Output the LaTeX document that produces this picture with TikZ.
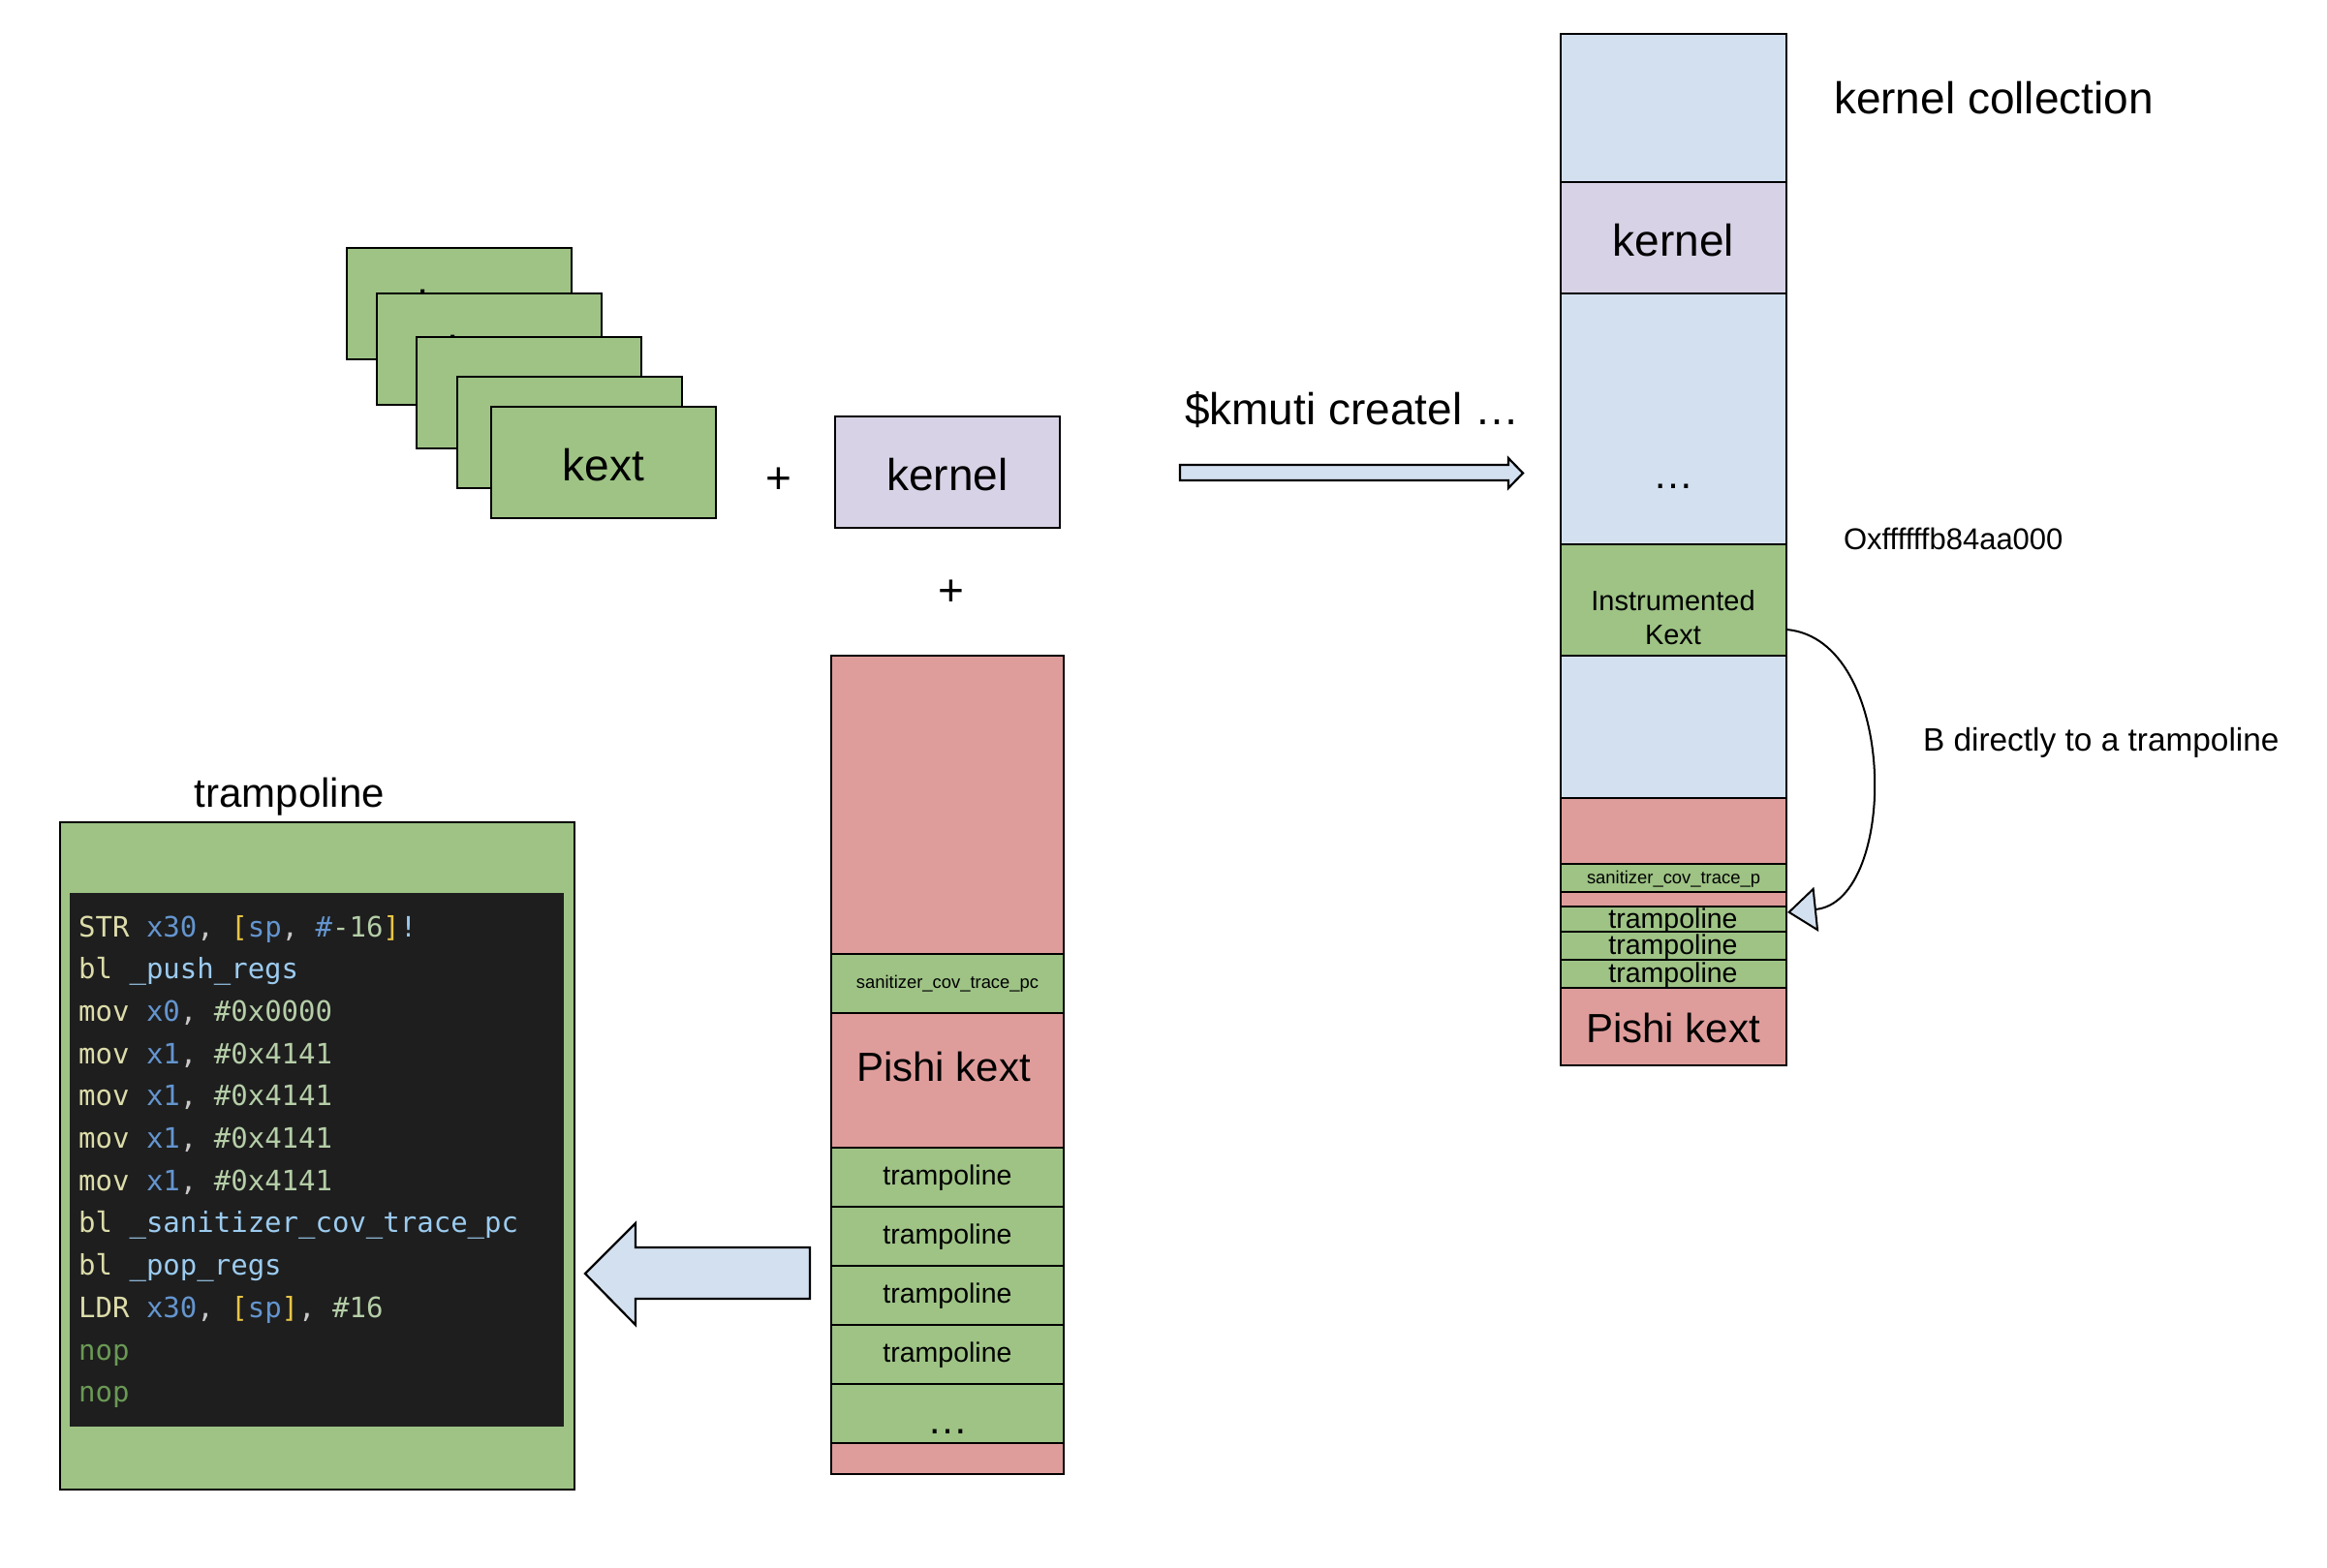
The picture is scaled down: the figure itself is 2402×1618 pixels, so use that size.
\documentclass[tikz,border=0pt]{standalone}
\usepackage{fontspec}
\setmainfont{Liberation Sans}
\newfontfamily\codefont{DejaVu Sans Mono}
\usetikzlibrary{arrows.meta}
\definecolor{cgreen}{HTML}{9EC385}
\definecolor{cred}{HTML}{DE9D9B}
\definecolor{cblue}{HTML}{D3E0F0}
\definecolor{cpurple}{HTML}{D8D2E6}
\definecolor{codebg}{HTML}{1E1E1E}
\definecolor{cop}{HTML}{DCDCAA}
\definecolor{creg}{HTML}{6495CF}
\definecolor{cbr}{HTML}{E8C547}
\definecolor{cnum}{HTML}{B5CEA8}
\definecolor{cfn}{HTML}{9CCBEF}
\definecolor{ccom}{HTML}{C8C8C8}
\definecolor{cnop}{HTML}{6A9955}
\newcommand\cOP[1]{\textcolor{cop}{#1}}
\newcommand\cRG[1]{\textcolor{creg}{#1}}
\newcommand\cBR[1]{\textcolor{cbr}{#1}}
\newcommand\cNU[1]{\textcolor{cnum}{#1}}
\newcommand\cFN[1]{\textcolor{cfn}{#1}}
\newcommand\cCM[1]{\textcolor{ccom}{#1}}
\newcommand\cNP[1]{\textcolor{cnop}{#1}}
\begin{document}
\begin{tikzpicture}[x=1pt,y=-1pt,
  cell/.style={draw=black, line width=2.6pt, rectangle, inner sep=0pt, outer sep=0pt, anchor=north west},
  txt/.style={inner sep=0pt, outer sep=0pt},
  f46/.style={font=\fontsize{46}{55}\selectfont},
  f42/.style={font=\fontsize{42}{50}\selectfont},
  f29/.style={font=\fontsize{29}{35}\selectfont},
  f28/.style={font=\fontsize{28.5}{34}\selectfont},
  f18/.style={font=\fontsize{18.4}{22}\selectfont},
  code/.style={anchor=base west, inner sep=0pt, font=\codefont\fontsize{29}{35}\selectfont},
  blockarrow/.style={draw=black, line width=2.2pt, fill=cblue, line join=miter}
]
\useasboundingbox (0,0) rectangle (2402,1618);

% ---------- stack of kexts ----------
\node[cell, fill=cgreen, minimum width=232pt, minimum height=115pt] (k1) at (358,256) {};
\node[txt, f46, yshift=-3pt] at (k1.center) {kext};
\node[cell, fill=cgreen, minimum width=232pt, minimum height=115pt] (k2) at (389,303) {};
\node[txt, f46, yshift=-3pt] at (k2.center) {kext};
\node[cell, fill=cgreen, minimum width=232pt, minimum height=115pt] (k3) at (430,348) {};
\node[txt, f46, yshift=-3pt] at (k3.center) {kext};
\node[cell, fill=cgreen, minimum width=232pt, minimum height=115pt] (k4) at (472,389) {};
\node[txt, f46, yshift=-3pt] at (k4.center) {kext};
\node[cell, fill=cgreen, minimum width=232pt, minimum height=115pt] (k5) at (507,420) {};
\node[txt, f46, yshift=-3pt] (k5t) at (k5.center) {kext};

\node[txt, f46] (plus1) at (804,496) {+};
\node[cell, fill=cpurple, minimum width=232pt, minimum height=115pt] (kern) at (862,430) {};
\node[txt, f46, yshift=-3pt] (kernt) at (kern.center) {kernel};
\node[txt, f46] (plus2) at (982,612) {+};

% ---------- middle column ----------
\node[cell, fill=cred, minimum width=240pt, minimum height=308pt] (m1) at (858,677) {};
\node[cell, fill=cgreen, minimum width=240pt, minimum height=61pt] (m2) at (858,985) {};
\node[txt, f18] at (m2.center) {sanitizer\_cov\_trace\_pc};
\node[cell, fill=cred, minimum width=240pt, minimum height=139pt] (m3) at (858,1046) {};
\node[txt, f42, anchor=base] at (974,1116) {Pishi kext};
\node[cell, fill=cgreen, minimum width=240pt, minimum height=61pt] (m4) at (858,1185) {};
\node[txt, f28, yshift=-1pt] at (m4.center) {trampoline};
\node[cell, fill=cgreen, minimum width=240pt, minimum height=61pt] (m5) at (858,1246) {};
\node[txt, f28, yshift=-1pt] at (m5.center) {trampoline};
\node[cell, fill=cgreen, minimum width=240pt, minimum height=61pt] (m6) at (858,1307) {};
\node[txt, f28, yshift=-1pt] at (m6.center) {trampoline};
\node[cell, fill=cgreen, minimum width=240pt, minimum height=61pt] (m7) at (858,1368) {};
\node[txt, f28, yshift=-1pt] at (m7.center) {trampoline};
\node[cell, fill=cgreen, minimum width=240pt, minimum height=61pt] (m8) at (858,1429) {};
\node[txt, f42, anchor=base] at (978,1480) {…};
\node[cell, fill=cred, minimum width=240pt, minimum height=32pt] (m9) at (858,1490) {};

% ---------- left arrow ----------
\draw[blockarrow] (836,1288) -- (656,1288) -- (656,1263) -- (604,1315) -- (656,1368) -- (656,1341) -- (836,1341) -- cycle;

% ---------- trampoline code box ----------
\node[txt, f42, anchor=base] (tlabel) at (299,833) {trampoline};
\node[cell, fill=cgreen, minimum width=531pt, minimum height=689pt] (tbox) at (62,849) {};
\node[anchor=north west, inner sep=0pt, outer sep=0pt, fill=codebg, minimum width=510pt, minimum height=551pt] (cbox) at (72,922) {};
\node[code] (l1) at (81,967) {\cOP{STR} \cRG{x30}\cCM{,} \cBR{[}\cRG{sp}\cCM{,} \cRG{\#}\cNU{-16}\cBR{]}\cFN{!}};
\node[code] (l2) at (81,1010.7) {\cOP{bl} \cFN{\_push\_regs}};
\node[code] (l3) at (81,1054.4) {\cOP{mov} \cRG{x0}\cCM{,} \cNU{\#0x0000}};
\node[code] (l4) at (81,1098.1) {\cOP{mov} \cRG{x1}\cCM{,} \cNU{\#0x4141}};
\node[code] (l5) at (81,1141.8) {\cOP{mov} \cRG{x1}\cCM{,} \cNU{\#0x4141}};
\node[code] (l6) at (81,1185.5) {\cOP{mov} \cRG{x1}\cCM{,} \cNU{\#0x4141}};
\node[code] (l7) at (81,1229.2) {\cOP{mov} \cRG{x1}\cCM{,} \cNU{\#0x4141}};
\node[code] (l8) at (81,1272.9) {\cOP{bl} \cFN{\_sanitizer\_cov\_trace\_pc}};
\node[code] (l9) at (81,1316.6) {\cOP{bl} \cFN{\_pop\_regs}};
\node[code] (l10) at (81,1360.3) {\cOP{LDR} \cRG{x30}\cCM{,} \cBR{[}\cRG{sp}\cBR{]}\cCM{,} \cNU{\#16}};
\node[code] (l11) at (81,1404) {\cNP{nop}};
\node[code] (l12) at (81,1447.7) {\cNP{nop}};

% ---------- top arrow ----------
\node[txt, f46, anchor=base west] (cmd) at (1223,438) {\$kmuti createl …};
\draw[blockarrow] (1218,480) -- (1557,480) -- (1557,473) -- (1572,488.5) -- (1557,504) -- (1557,496) -- (1218,496) -- cycle;

% ---------- kernel collection column ----------
\node[cell, fill=cblue, minimum width=233pt, minimum height=153pt] (r1) at (1611,35) {};
\node[cell, fill=cpurple, minimum width=233pt, minimum height=115pt] (r2) at (1611,188) {};
\node[txt, f46, yshift=-3pt] at (r2.center) {kernel};
\node[cell, fill=cblue, minimum width=233pt, minimum height=259pt] (r3) at (1611,303) {};
\node[txt, f42, anchor=base] at (1727,504) {…};
\node[cell, fill=cgreen, minimum width=233pt, minimum height=115pt] (r4) at (1611,562) {};
\node[txt, f29, anchor=base] at (1727,630) {Instrumented};
\node[txt, f29, anchor=base] at (1727,665) {Kext};
\node[cell, fill=cblue, minimum width=233pt, minimum height=147pt] (r5) at (1611,677) {};
\node[cell, fill=cred, minimum width=233pt, minimum height=68pt] (r6) at (1611,824) {};
\node[cell, fill=cgreen, minimum width=233pt, minimum height=29pt] (r7) at (1611,892) {};
\node[txt, f18, yshift=-1pt] at (r7.center) {sanitizer\_cov\_trace\_p};
\node[cell, fill=cred, minimum width=233pt, minimum height=15pt] (r8) at (1611,921) {};
\node[cell, fill=cgreen, minimum width=233pt, minimum height=26pt] (r9) at (1611,936) {};
\node[txt, f28, anchor=base] at (1727,958) {trampoline};
\node[cell, fill=cgreen, minimum width=233pt, minimum height=29pt] (r10) at (1611,962) {};
\node[txt, f28, anchor=base] at (1727,985) {trampoline};
\node[cell, fill=cgreen, minimum width=233pt, minimum height=29pt] (r11) at (1611,991) {};
\node[txt, f28, anchor=base] at (1727,1014) {trampoline};
\node[cell, fill=cred, minimum width=233pt, minimum height=80pt] (r12) at (1611,1020) {};
\node[txt, f42, anchor=base] at (1727,1076) {Pishi kext};

\node[txt, f46, anchor=west] (kc) at (1893,101) {kernel collection};
\node[txt, font=\fontsize{31}{37}\selectfont, anchor=west] (addr) at (1903,556) {Oxffffffb84aa000};
\node[txt, font=\fontsize{33.4}{40}\selectfont, anchor=base west] (blabel) at (1985,775) {B directly to a trampoline};

% ---------- branch arrow ----------
\coordinate (cs) at (1844,650);
\coordinate (ce) at (1845,942);
\draw[line width=2pt, -{Triangle[length=30pt,width=46pt,fill=cblue,line width=2pt]}] (cs) .. controls (1960,660) and (1960,930) .. (ce);
\end{tikzpicture}
\end{document}
